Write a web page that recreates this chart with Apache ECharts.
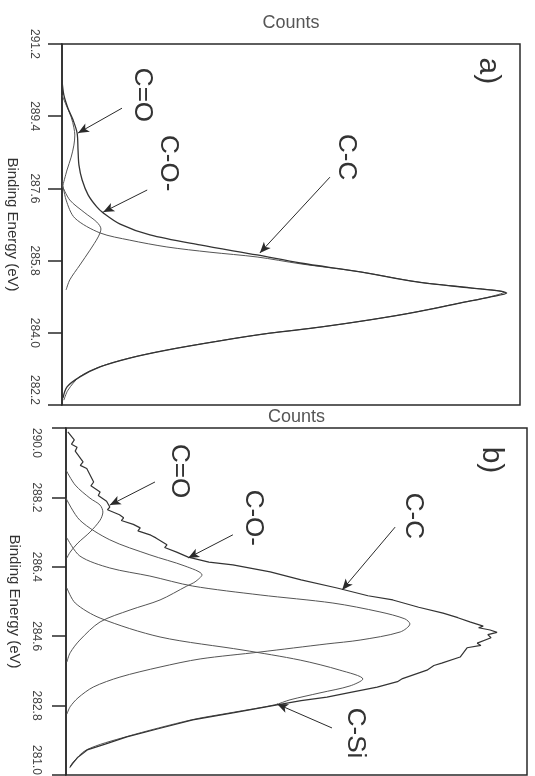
<!DOCTYPE html>
<html>
<head>
<meta charset="utf-8">
<script src="https://cdn.jsdelivr.net/npm/echarts@6/dist/echarts.min.js"></script>
<style>html,body{margin:0;padding:0;background:#fff}#c{width:535px;height:776px}</style>
</head>
<body>
<div id="c"></div>
<script>
// ---- tick labels (Binding Energy, eV) ----
const ticksA = [282.2, 284.0, 285.8, 287.6, 289.4, 291.2];
const ticksB = [281.0, 282.8, 284.6, 286.4, 288.2, 290.0];

// ---- panel a) : [counts, binding energy] ----
const aEnvelope = [[0,290.30],[0.4,289.93],[1.3,289.60],[2.4,289.31],[3.3,288.98],[3.5,288.56],[3.7,288.18],[4.4,287.81],[5.7,287.44],[7.6,287.14],[9.0,286.99],[12.7,286.71],[19.2,286.44],[30.1,286.19],[42.6,285.94],[52.0,285.74],[65.1,285.52],[77.5,285.27],[89.1,285.12],[95.6,285.04],[97.1,284.99],[93.4,284.89],[86.9,284.74],[77.5,284.52],[67.2,284.32],[56.3,284.14],[45.4,283.99],[34.5,283.80],[22.9,283.57],[14.8,283.37],[8.3,283.15],[3.9,282.90],[1.1,282.65],[0.2,282.37]];
const aCC = [[0,287.81],[0.9,287.31],[2.8,286.86],[8.3,286.49],[14.8,286.31],[22.9,286.14],[32.3,286.01],[42.6,285.89],[52.0,285.72],[65.1,285.52],[77.5,285.27],[89.1,285.12],[96.5,285.01],[93.2,284.89],[86.7,284.74],[77.3,284.52],[67.1,284.32],[56.2,284.14],[45.3,283.99],[34.4,283.80],[22.8,283.57],[14.7,283.37],[8.2,283.15],[3.8,282.90],[1.3,282.57],[0.4,282.32]];
const aCO = [[0,287.68],[1.7,287.31],[5.0,286.99],[7.6,286.76],[8.5,286.59],[7.9,286.39],[6.1,286.06],[3.9,285.69],[1.7,285.32],[0.9,285.07]];
const aCdO = [[0,289.93],[0.9,289.68],[2.0,289.38],[2.6,289.11],[2.8,288.93],[2.6,288.68],[2.0,288.38],[1.1,288.06],[0.2,287.68]];

// ---- panel b) : [counts, binding energy] (measured, noisy) ----
const bEnvelope = [[0.4,289.90],[1.8,289.69],[1.2,289.58],[2.4,289.50],[2.0,289.40],[3.7,289.12],[3.1,289.03],[4.5,288.95],[6.0,288.60],[5.4,288.50],[7.4,288.34],[7.0,288.25],[8.8,288.10],[9.5,287.95],[9.0,287.88],[11.6,287.75],[12.5,287.67],[12.0,287.60],[14.6,287.50],[16.1,287.41],[15.6,287.33],[18.4,287.22],[19.5,287.15],[21.9,286.97],[21.4,286.90],[24.0,286.78],[26.5,286.65],[31.0,286.52],[36.2,286.45],[44.3,286.27],[51.0,286.06],[58.8,285.85],[65.5,285.65],[70.9,285.54],[76.5,285.35],[81.8,285.20],[85.0,285.08],[87.6,284.97],[90.5,284.86],[89.5,284.82],[92.0,284.76],[93.5,284.70],[91.5,284.64],[92.2,284.56],[89.2,284.42],[90.0,284.36],[87.0,284.30],[85.5,284.06],[81.5,283.90],[79.8,283.84],[78.3,283.72],[73.0,283.50],[71.9,283.42],[67.5,283.28],[62.0,283.15],[56.6,283.02],[51.0,282.93],[45.8,282.82],[36.5,282.62],[27.5,282.43],[20.0,282.20],[13.2,281.99],[8.5,281.80],[4.6,281.65],[2.5,281.45],[1.5,281.31],[0.9,281.21]];
const bCdO = [[0,288.91],[2.0,288.52],[5.2,288.18],[7.4,288.00],[8.0,287.82],[7.4,287.61],[5.2,287.30],[2.6,287.02],[0.9,286.78],[0.2,286.63]];
const bCO = [[0,288.18],[3.0,287.61],[9.5,287.10],[18.2,286.71],[25.8,286.42],[29.5,286.19],[28.0,286.01],[26.2,285.90],[20.4,285.54],[13.9,285.28],[7.4,284.97],[3.0,284.50],[0.9,284.17],[0.2,283.93]];
const bCC = [[0.2,287.15],[3.0,286.68],[9.5,286.37],[18.2,286.16],[27.5,285.90],[42.1,285.67],[57.9,285.46],[68.1,285.23],[73.5,285.05],[74.6,284.92],[72.5,284.71],[63.8,284.50],[56.6,284.40],[42.1,284.19],[29.1,284.01],[20.4,283.80],[11.7,283.54],[5.9,283.28],[2.6,283.00],[0.9,282.77],[0.2,282.58]];
const bCSi = [[0.2,285.85],[2.0,285.46],[7.4,285.07],[20.4,284.58],[38.4,284.24],[50.8,283.98],[59.4,283.72],[64.4,283.49],[61.6,283.31],[55.1,283.13],[48.6,282.95],[45.3,282.82],[36.0,282.62],[27.2,282.43],[13.0,281.99],[4.4,281.65],[1.4,281.31],[0.8,281.18]];

// ---- annotations: [label, labelPos, arrowStart, arrowTip] in data units ----
const annA = [
  ['C=O', [17.5,289.93], [13.1,289.60], [3.5,288.98]],
  ['C-O-', [23.1,288.23], [18.6,287.56], [9.0,287.01]],
  ['C-C', [62.0,288.38], [58.5,287.88], [43.2,285.99]]
];
const annB = [
  ['C=O', [24.5,288.88], [19.3,288.60], [9.5,288.00]],
  ['C-O-', [40.6,287.67], [36.2,287.23], [26.5,286.63]],
  ['C-C', [75.3,287.72], [71.4,287.43], [59.9,285.80]],
  ['C-Si', [62.7,282.09], [57.7,282.22], [45.8,282.84]]
];
const panelTagA = ['a)', [93.0,290.53]];
const panelTagB = ['b)', [92.2,289.17]];

const ink = '#2a2a2a';
const labelFont = 'Liberation Sans';

function yAxis(grid, ticks, min, max, margin, nameGap, alignMin, alignMax) {
  return {
    gridIndex: grid, type: 'value', min: min, max: max,
    axisLine: {show: true, lineStyle: {color: ink, width: 1.5}},
    axisTick: {show: true, inside: false, length: 14, customValues: ticks, lineStyle: {color: ink, width: 1.5}},
    axisLabel: {show: true, customValues: ticks, rotate: -90, margin: margin, fontSize: 12,
      alignMinLabel: alignMin, alignMaxLabel: alignMax,
      fontFamily: labelFont, color: '#444', formatter: v => v.toFixed(1)},
    splitLine: {show: false},
    name: 'Binding Energy (eV)', nameLocation: 'middle', nameRotate: -90, nameGap: nameGap,
    nameTextStyle: {fontSize: 15, fontFamily: labelFont, color: '#333'}
  };
}
function xAxis(grid, gap) {
  return {
    gridIndex: grid, type: 'value', min: 0, max: 100, position: 'top',
    axisLine: {show: false}, axisTick: {show: false}, axisLabel: {show: false}, splitLine: {show: false},
    name: 'Counts', nameLocation: 'middle', nameGap: gap,
    nameTextStyle: {fontSize: 18, fontFamily: labelFont, color: '#555'}
  };
}
function curve(name, data, grid, color, width, smooth) {
  return {
    name: name, type: 'line', xAxisIndex: grid, yAxisIndex: grid, data: data,
    showSymbol: false, smooth: smooth,
    lineStyle: {color: color, width: width}, silent: true, animation: false
  };
}
function annotations(grid, ann, tag) {
  const pts = ann.map(a => ({name: a[0], coord: a[1]}));
  pts.push({name: tag[0], coord: tag[1], label: {fontSize: 30}});
  return {
    type: 'line', xAxisIndex: grid, yAxisIndex: grid, data: [], silent: true, animation: false,
    markLine: {
      silent: true, symbol: ['none', 'arrow'], symbolSize: [7, 11],
      label: {show: false}, lineStyle: {color: ink, width: 1, type: 'solid'},
      emphasis: {disabled: true},
      data: ann.map(a => [{coord: a[2]}, {coord: a[3]}])
    },
    markPoint: {
      silent: true, symbol: 'circle', symbolSize: 0,
      label: {show: true, position: 'inside', rotate: -90, formatter: '{b}', fontSize: 26,
        fontFamily: labelFont, color: '#333'},
      data: pts
    }
  };
}

const chart = echarts.init(document.getElementById('c'), null, {renderer: 'canvas'});
chart.setOption({
  animation: false,
  backgroundColor: '#ffffff',
  grid: [
    {left: 62, right: 15, top: 44, bottom: 371, show: true, borderColor: ink, borderWidth: 1.5, backgroundColor: 'transparent', outerBoundsMode: 'none'},
    {left: 66, right: 8, top: 428, bottom: 1, show: true, borderColor: ink, borderWidth: 1.5, backgroundColor: 'transparent', outerBoundsMode: 'none'}
  ],
  xAxis: [xAxis(0, 12), xAxis(1, 2)],
  yAxis: [yAxis(0, ticksA, 282.2, 291.2, 22, 32, 'right', null), yAxis(1, ticksB, 281.0, 290.0, 24, 38, 'right', 'left')],
  series: [
    curve('a C=O', aCdO, 0, '#555', 1, 0.3),
    curve('a C-O-', aCO, 0, '#555', 1, 0.3),
    curve('a C-C', aCC, 0, '#555', 1, 0.3),
    curve('a envelope', aEnvelope, 0, '#333', 1.3, 0.3),
    curve('b C=O', bCdO, 1, '#555', 1, 0.3),
    curve('b C-O-', bCO, 1, '#555', 1, 0.3),
    curve('b C-C', bCC, 1, '#555', 1, 0.3),
    curve('b C-Si', bCSi, 1, '#555', 1, 0.3),
    curve('b envelope', bEnvelope, 1, '#333', 1.2, false),
    annotations(0, annA, panelTagA),
    annotations(1, annB, panelTagB)
  ]
});
</script>
</body>
</html>
